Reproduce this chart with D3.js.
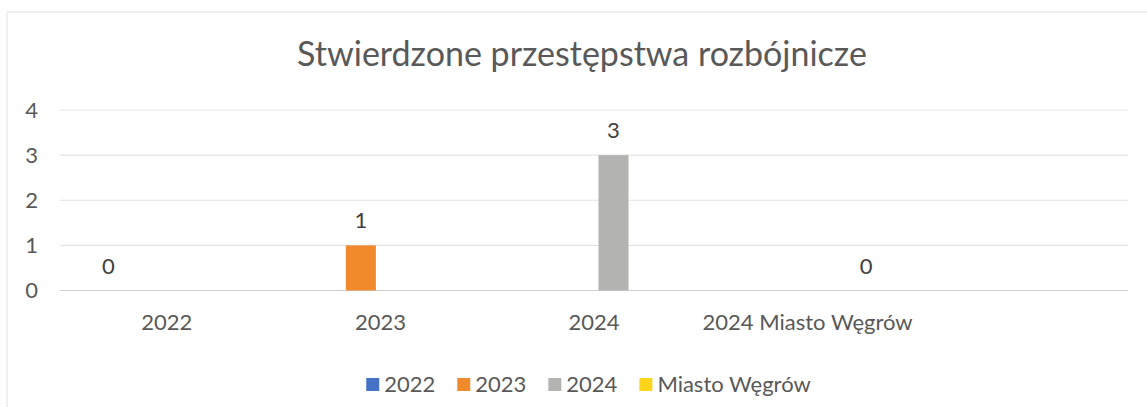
<!DOCTYPE html>
<html><head><meta charset="utf-8">
<script src="https://cdn.jsdelivr.net/npm/d3@7"></script>
<style>body{margin:0;background:#fff}svg{display:block}text{font-family:Lato,"Open Sans",sans-serif}</style>
</head><body><svg id="c" width="1147" height="407"></svg>
<script>
const title = "Stwierdzone przestępstwa rozbójnicze";
const categories = ["2022", "2023", "2024", "2024 Miasto Węgrów", ""];
const seriesNames = ["2022", "2023", "2024", "Miasto Węgrów"];
const seriesColors = ["#4472C4", "#F08A2C", "#B3B3B1", "#FFD51C"];
// value of each series in its own category (null = no bar)
const values2022 = [0, null, null, null, null];
const values2023 = [null, 1, null, null, null];
const values2024 = [null, null, 3, null, null];
const valuesMiasto = [null, null, null, 0, null];
const yTicks = [0, 1, 2, 3, 4];

const seriesValues = [values2022, values2023, values2024, valuesMiasto];
const svg = d3.select("#c");
const W = 1147, H = 407;
const FS = 22;

// chart frame (scanned border: top and left)
svg.append("line").attr("x1",7).attr("x2",W).attr("y1",12).attr("y2",12).attr("stroke","#e2e2e2");
svg.append("line").attr("x1",7).attr("x2",7).attr("y1",12).attr("y2",H).attr("stroke","#e2e2e2");

const x0 = d3.scaleBand().domain(categories).range([60, 1128]).padding(0);
const x1 = d3.scaleBand().domain(seriesNames).range([-78, 78]).paddingInner(0.23).paddingOuter(0.115);
const y = d3.scaleLinear().domain([0, 4]).range([290.5, 110]);

// gridlines
svg.append("g").selectAll("line").data(yTicks).join("line")
  .attr("x1", 60).attr("x2", 1128)
  .attr("y1", d => y(d)).attr("y2", d => y(d))
  .attr("stroke", d => d === 0 ? "#d0d0d0" : "#e3e3e3").attr("stroke-width", 1.2);

// y axis labels
const yAxis = d3.axisLeft(y).tickValues(yTicks).tickFormat(d3.format("d")).tickSize(0).tickPadding(0);
const gy = svg.append("g").attr("transform", "translate(38,0)").call(yAxis);
gy.select(".domain").remove();
gy.selectAll("text").attr("font-size", FS).attr("fill", "#595959").attr("font-family", "Lato");

// x axis labels
const xAxis = d3.axisBottom(x0).tickSize(0).tickPadding(0);
const gx = svg.append("g").attr("transform", "translate(0,314)").call(xAxis);
gx.select(".domain").remove();
gx.selectAll("text").attr("font-size", FS).attr("fill", "#595959").attr("font-family", "Lato").attr("dy", "0.72em");

// bars + labels
seriesNames.forEach((s, si) => {
  const pts = categories.map((c, ci) => ({c, v: seriesValues[si][ci]})).filter(d => d.v !== null);
  const g = svg.append("g");
  g.selectAll("rect").data(pts).join("rect")
    .attr("x", d => x0(d.c) + x0.bandwidth()/2 + x1(s))
    .attr("width", x1.bandwidth())
    .attr("y", d => y(d.v))
    .attr("height", d => y(0) - y(d.v))
    .attr("fill", seriesColors[si]);
  g.selectAll("text").data(pts).join("text")
    .attr("x", d => x0(d.c) + x0.bandwidth()/2 + x1(s) + x1.bandwidth()/2)
    .attr("y", d => y(d.v) - 17)
    .attr("text-anchor", "middle").attr("font-size", FS).attr("fill", "#404040")
    .text(d => d.v);
});

// title
const t = svg.append("text").attr("x", 582).attr("y", 66).attr("text-anchor", "middle")
  .attr("font-size", 32).attr("fill", "#595959").text(title);
const tw = t.node().getComputedTextLength();
t.attr("font-size", 32 * 570 / tw);

// legend
const legend = svg.append("g");
let lx = 0;
const items = legend.selectAll("g").data(seriesNames).join("g");
items.each(function(s, i) {
  const g = d3.select(this);
  g.append("rect").attr("x", 0).attr("y", -14).attr("width", 13).attr("height", 13).attr("fill", seriesColors[i]);
  const tx = g.append("text").attr("x", 18).attr("y", 0).attr("font-size", FS).attr("fill", "#595959").text(s);
  const w = 18 + tx.node().getComputedTextLength();
  g.attr("transform", `translate(${lx},0)`);
  lx += w + 22;
});
lx -= 22;
legend.attr("transform", `translate(${(365 + 812)/2 - lx/2},392)`);
</script></body></html>
